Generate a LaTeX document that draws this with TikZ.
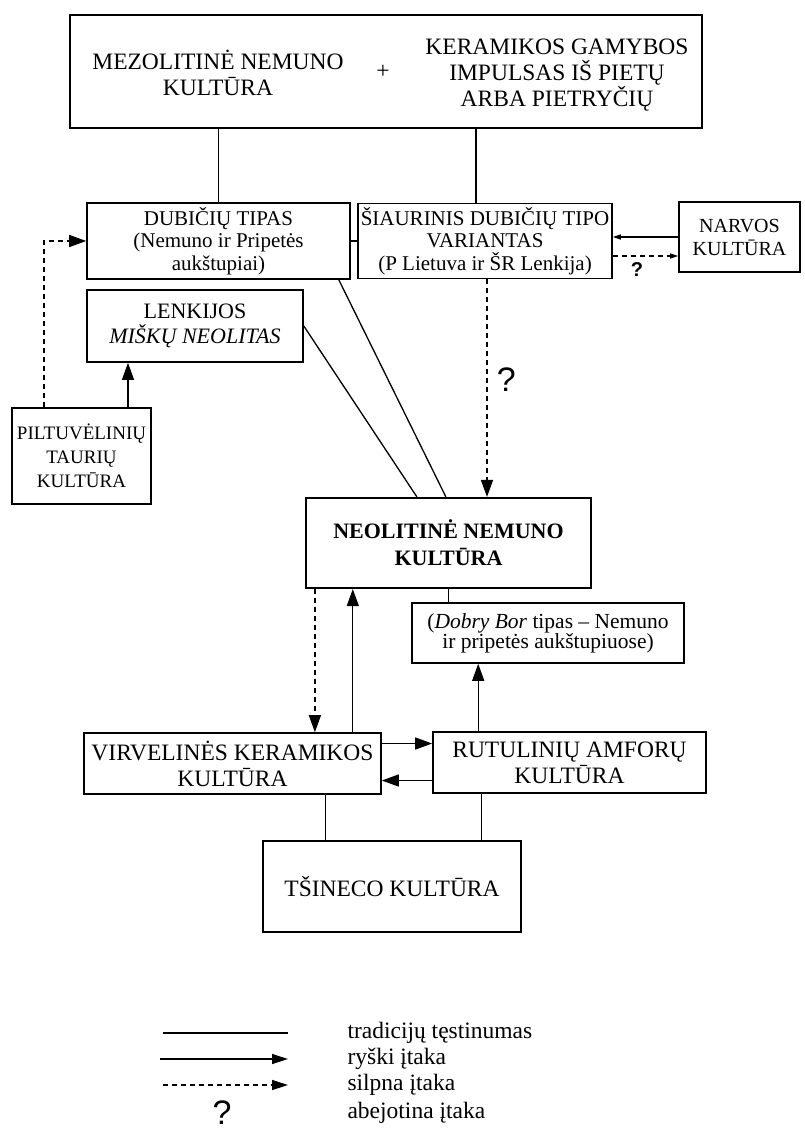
\documentclass[tikz,border=0pt]{standalone}
\usepackage{fontspec}
\setmainfont{Liberation Serif}
\newfontfamily\qfont{Liberation Sans}
\usetikzlibrary{arrows.meta}

\begin{document}
\begin{tikzpicture}[x=1pt,y=-1pt,
	box/.style={draw,line width=1.6pt,inner sep=0pt,align=center},
	big/.style={font=\fontsize{23.5}{26}\selectfont},
	mid/.style={font=\fontsize{21}{22.5}\selectfont},
	small/.style={font=\fontsize{19}{24}\selectfont},
	link/.style={line width=1.3pt},
	infl/.style={link,-{Triangle[length=17pt,width=12pt]}},
	weak/.style={infl,dash pattern=on 5pt off 4pt},
	thin/.style={link,-{Triangle[length=8pt,width=5pt]}},
	bigq/.style={font=\qfont\fontsize{34}{34}\selectfont},
	smallq/.style={font=\qfont\bfseries\fontsize{20}{20}\selectfont}]

	\useasboundingbox (0,0) rectangle (804,1144);

	\node[box, minimum width=632pt, minimum height=113pt] (mezo) at (386,71.5) {};
	\node[big, align=center] (mezotxt) at (218,73) {MEZOLITINĖ NEMUNO\\KULTŪRA};
	\node[big] (plus) at (383,72) {+};
	\node[big, align=center] (keram) at (557,75) {KERAMIKOS GAMYBOS\\IMPULSAS IŠ PIETŲ\\ARBA PIETRYČIŲ};

	\node[box, mid, minimum width=263pt, minimum height=76pt] (dubiciu) at (218.5,241) {DUBIČIŲ TIPAS\\(Nemuno ir Pripetės\\aukštupiai)};
	\node[box, mid, minimum width=254pt, minimum height=75pt] (siaur) at (485,241) {ŠIAURINIS DUBIČIŲ TIPO\\VARIANTAS\\(P Lietuva ir ŠR Lenkija)};
	\node[box, font=\fontsize{20}{23}\selectfont, minimum width=121pt, minimum height=70pt] (narv) at (739.5,237) {NARVOS\\KULTŪRA};
	\node[box, font=\fontsize{22}{25}\selectfont, minimum width=216pt, minimum height=72pt] (lenk) at (195,326) {LENKIJOS\\\textit{MIŠKŲ NEOLITAS}};
	\node[box, small, minimum width=139pt, minimum height=96pt] (pilt) at (81.5,456) {PILTUVĖLINIŲ\\TAURIŲ\\KULTŪRA};

	\node[box, line width=2.2pt, font=\bfseries\fontsize{22}{27}\selectfont, minimum width=285pt, minimum height=90pt] (neo) at (448.5,543) {NEOLITINĖ NEMUNO\\KULTŪRA};
	\node[box, font=\fontsize{21.5}{20}\selectfont, minimum width=272pt, minimum height=60pt] (dobry) at (548,633) {(\textit{Dobry Bor} tipas -- Nemuno\\ir pripetės aukštupiuose)};

	\node[box, big, minimum width=297pt, minimum height=61pt] (virv) at (232.5,763.5) {VIRVELINĖS KERAMIKOS\\KULTŪRA};
	\node[box, big, minimum width=273pt, minimum height=61pt] (rutu) at (569.5,762.5) {RUTULINIŲ AMFORŲ\\KULTŪRA};
	\node[box, big, minimum width=258pt, minimum height=91pt] (tsin) at (392,886.5) {TŠINECO KULTŪRA};

	% tradition lines from the top
	\coordinate (siaurtop) at ([xshift=-9pt]siaur.north);
	\draw[link] (dubiciu.north) -- (dubiciu.north |- mezo.south);
	\draw[link] (siaurtop) -- (siaurtop |- mezo.south);
	\draw[link] (dubiciu.east) -- (siaur.west);

	% Narvos
	\coordinate (narvlow) at ([yshift=-19pt]narv.west);
	\draw[thin] (narv.west) -- (narv.west -| siaur.east);
	\draw[thin, dash pattern=on 5pt off 4pt] (narvlow -| siaur.east) -- node[pos=0.37, below=3pt, smallq] (q1) {?} (narvlow);

	\coordinate (sdown) at ([xshift=2pt]siaur.south);
	\draw[weak] (sdown) -- node[pos=0.46, right=6pt, bigq] (q2) {?} (sdown |- neo.north);
	\draw[link] (lenk.east) -- ([xshift=112pt]neo.north west);
	\draw[link] ([xshift=-12pt]dubiciu.south east) -- ([xshift=141pt]neo.north west);

	\coordinate (piltR) at ([xshift=46.5pt]pilt.north);
	\coordinate (piltL) at ([xshift=-37.5pt]pilt.north);
	\draw[infl] (piltR) -- (piltR |- lenk.south);
	\draw[weak] (piltL) |- (dubiciu.west);

	% lower part
	\coordinate (neoL) at ([xshift=10pt]neo.south west);
	\coordinate (virvUp) at ([xshift=-29pt]virv.north east);
	\coordinate (rutuUp) at ([xshift=46pt]rutu.north west);
	\coordinate (virvR) at ([yshift=20pt]virv.east);
	\coordinate (rutuL) at ([yshift=-18pt]rutu.west);
	\coordinate (tsinL) at ([xshift=63pt]tsin.north west);
	\coordinate (tsinR) at ([xshift=-40pt]tsin.north east);
	\draw[weak] (neoL) -- (neoL |- virv.north);
	\draw[infl] (virvUp) -- (virvUp |- neo.south);
	\draw[link] (neo.south) -- (neo.south |- dobry.north);
	\draw[infl] (rutuUp) -- (rutuUp |- dobry.south);
	\draw[infl] (virvR) -- (virvR -| rutu.west);
	\draw[infl] (rutuL) -- (rutuL -| virv.east);
	\draw[link] (tsinL) -- (tsinL |- virv.south);
	\draw[link] (tsinR) -- (tsinR |- rutu.south);

	% legend
	\node[big, anchor=west] (leg1) at (344,1033) {tradicijų tęstinumas};
	\node[big, anchor=west] (leg2) at (344,1059) {ryški įtaka};
	\node[big, anchor=west] (leg3) at (344,1085) {silpna įtaka};
	\node[big, anchor=west] (leg4) at (344,1113) {abejotina įtaka};
	\coordinate (l1) at (163,1033);
	\coordinate (l2) at (160,1059);
	\coordinate (l3) at (163,1085);
	\draw[link] (l1) -- (l1 -| 288,0);
	\draw[link, -{Triangle[length=16pt,width=10pt]}] (l2) -- (l2 -| 288,0);
	\draw[link, dash pattern=on 5pt off 4pt, -{Triangle[length=16pt,width=10pt]}] (l3) -- (l3 -| 288,0);
	\node[bigq] (legq) at (222,1113) {?};

\end{tikzpicture}
\end{document}
